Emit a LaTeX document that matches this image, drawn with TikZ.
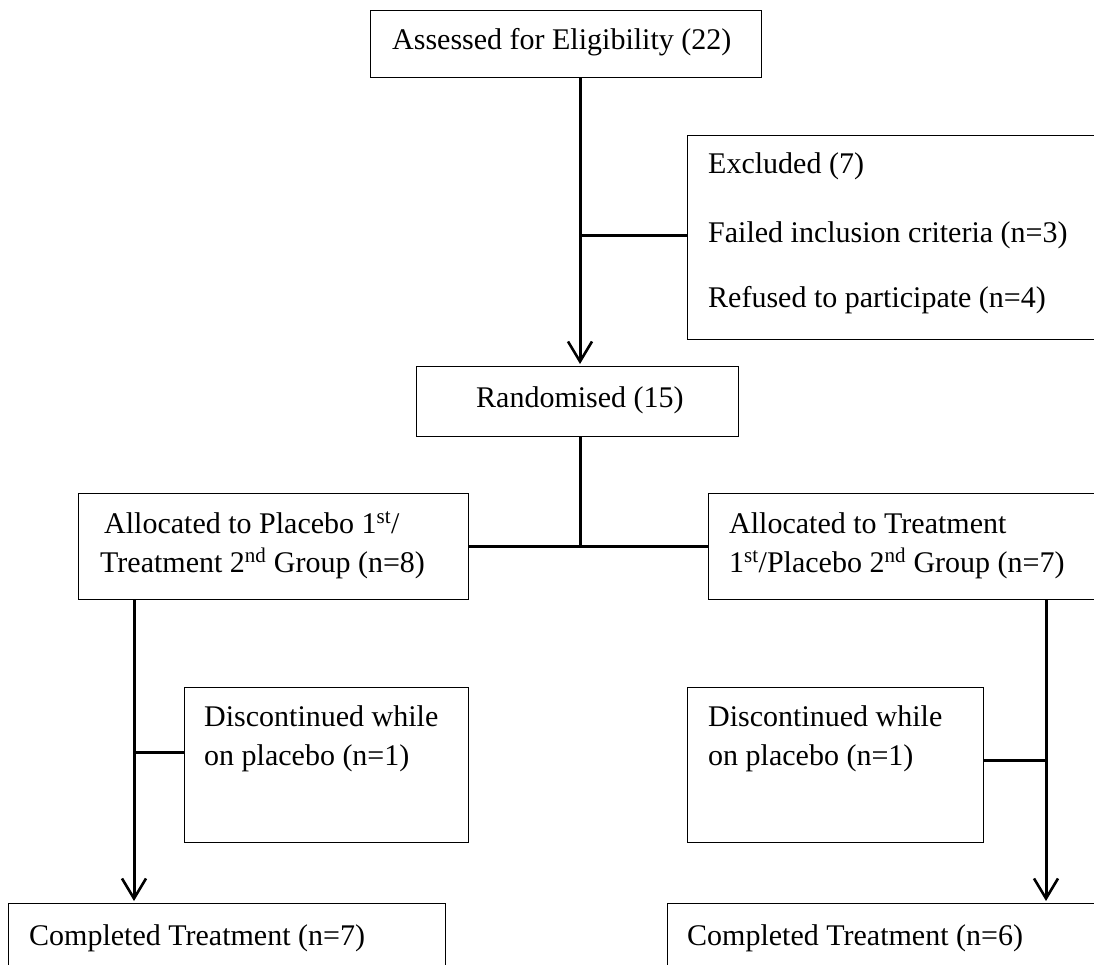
\documentclass[tikz,border=0pt]{standalone}
\usepackage{fontspec}
\setmainfont{Liberation Serif}
\usetikzlibrary{arrows.meta}
\begin{document}
\begin{tikzpicture}[x=1pt,y=-1pt,
  box/.style={draw=black,line width=1.3pt,rectangle,inner sep=0pt},
  txt/.style={anchor=base west,inner sep=0pt,font=\fontsize{30}{36}\selectfont},
  conn/.style={line width=3pt},
  arr/.style={line width=3pt,-{Straight Barb[length=20pt,width=24pt,line width=2.6pt]},shorten >=2pt}]
\useasboundingbox (0,0) rectangle (1094,965);
\clip (0,0) rectangle (1094,965);
% boxes
\node[box,anchor=north west,minimum width=391pt,minimum height=67pt] (assess) at (370,10) {};
\node[box,anchor=north west,minimum width=420pt,minimum height=204pt] (excl) at (687,135) {};
\node[box,anchor=north west,minimum width=322pt,minimum height=70pt] (rand) at (416,366) {};
\node[box,anchor=north west,minimum width=390pt,minimum height=106pt] (allocL) at (78,493) {};
\node[box,anchor=north west,minimum width=400pt,minimum height=106pt] (allocR) at (708,493) {};
\node[box,anchor=north west,minimum width=284pt,minimum height=155pt] (discL) at (184,687) {};
\node[box,anchor=north west,minimum width=296pt,minimum height=155pt] (discR) at (687,687) {};
\node[box,anchor=north west,minimum width=437pt,minimum height=80pt] (compL) at (8,903) {};
\node[box,anchor=north west,minimum width=440pt,minimum height=80pt] (compR) at (667,903) {};
% texts
\node[txt] (tassess) at (392,50) {Assessed for Eligibility (22)};
\node[txt] (texcl1) at (708,174) {Excluded (7)};
\node[txt] (texcl2) at (708,243) {Failed inclusion criteria (n=3)};
\node[txt] (texcl3) at (708,308) {Refused to participate (n=4)};
\node[txt] (trand) at (476,407) {Randomised (15)};
\node[txt] (tal1) at (104,533) {Allocated to Placebo 1\textsuperscript{st}/};
\node[txt] (tal2) at (100,572) {Treatment 2\textsuperscript{nd} Group (n=8)};
\node[txt] (tar1) at (729,533) {Allocated to Treatment};
\node[txt] (tar2) at (729,572) {1\textsuperscript{st}/Placebo 2\textsuperscript{nd} Group (n=7)};
\node[txt] (tdl1) at (204,726) {Discontinued while};
\node[txt] (tdl2) at (204,765) {on placebo (n=1)};
\node[txt] (tdr1) at (708,726) {Discontinued while};
\node[txt] (tdr2) at (708,765) {on placebo (n=1)};
\node[txt] (tcl) at (29,945) {Completed Treatment (n=7)};
\node[txt] (tcr) at (687,945) {Completed Treatment (n=6)};
% junction coordinates
\coordinate (j1) at (580,236);
\coordinate (j2) at (580,546);
\coordinate (jl) at (134,752);
\coordinate (jr) at (1046,760);
% connectors
\draw[arr] (assess.south -| j1) -- (rand.north -| j1);
\draw[conn] (j1) -- (excl.west |- j1);
\draw[conn] (rand.south -| j2) -- (j2);
\draw[conn] (allocL.east |- j2) -- (allocR.west |- j2);
\draw[arr] (allocL.south -| jl) -- (compL.north -| jl);
\draw[conn] (jl) -- (discL.west |- jl);
\draw[arr] (allocR.south -| jr) -- (compR.north -| jr);
\draw[conn] (discR.east |- jr) -- (jr);
\end{tikzpicture}
\end{document}
